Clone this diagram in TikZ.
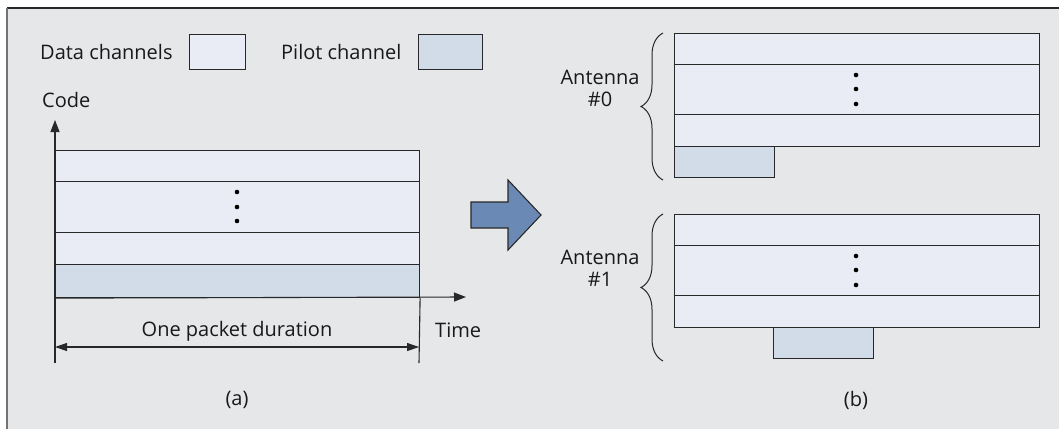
\documentclass[tikz,border=0pt]{standalone}
\usepackage{fontspec}
\setmainfont{Open Sans}
\usetikzlibrary{arrows.meta,decorations.pathreplacing}

\definecolor{panelgray}{RGB}{230,231,232}
\definecolor{datafill}{RGB}{233,236,244}
\definecolor{pilotfill}{RGB}{210,219,232}
\definecolor{bigarrow}{RGB}{106,138,181}
\definecolor{edge}{RGB}{40,40,40}

\begin{document}
\begin{tikzpicture}[x=1pt,y=-1pt,
        font=\fontsize{20}{22}\selectfont,
        datarow/.style={draw=edge, fill=datafill, line width=1.1pt, anchor=north west, minimum width=364pt, inner sep=0pt},
        pilotrow/.style={draw=edge, fill=pilotfill, line width=1.1pt, anchor=north west, inner sep=0pt},
        legendbox/.style={draw=edge, line width=1.1pt, anchor=north west, minimum width=56pt, minimum height=35pt, inner sep=0pt},
        txt/.style={inner sep=0pt, text=black!90},
        axis/.style={draw=edge, line width=1.1pt, -{Triangle[length=12pt,width=9pt]}},
        dimline/.style={draw=edge, line width=1.1pt, {Triangle[length=12pt,width=8pt]}-{Triangle[length=12pt,width=8pt]}},
        bracket/.style={draw=edge, line width=1pt, decorate, decoration={brace, amplitude=22pt}},
        ]
        \useasboundingbox (0,0) rectangle (1059,429);

        % Panel
        \fill[panelgray] (7,8) rectangle (1059,429);
        \draw[edge, line width=2pt] (7,8) -- (1059,8);
        \draw[black!55, line width=2.4pt] (7,8) -- (7,429);

        % Legend
        \node[txt, anchor=west] (datalabel) at (40,52) {Data channels};
        \node[legendbox, fill=datafill] (databox) at (189,34) {};
        \node[txt, anchor=west] (pilotlabel) at (281,52) {Pilot channel};
        \node[legendbox, fill=pilotfill, minimum width=64pt] (pilotbox) at (418,34) {};

        % (a) one packet
        \node[datarow, minimum height=31pt] (a1) at (55,150) {};
        \node[datarow, minimum height=51pt] (a2) at (55,181) {};
        \node[datarow, minimum height=32pt] (a3) at (55,232) {};
        \node[pilotrow, minimum width=364pt, minimum height=33pt] (ap) at (55,264) {};
        \foreach \y in {192,207,221}
            \fill[black] (237,\y) circle (2.3pt);

        % Axes
        \node[txt, anchor=west] (code) at (42,100) {Code};
        \node[txt, anchor=west] (time) at (435,330) {Time};
        \coordinate (codetip) at (55,120);
        \coordinate (timetip) at (466,297);
        \draw[axis] (ap.south west) -- (codetip);
        \draw[axis] (ap.south west) -- (timetip);

        % Packet duration
        \coordinate (dl) at (55,363);
        \coordinate (dr) at (419,363);
        \coordinate (al) at (55,347);
        \coordinate (ar) at (419,347);
        \draw[edge, line width=1.1pt] (ap.south west) -- (dl);
        \draw[edge, line width=1.1pt] (ap.south east) -- (dr);
        \draw[dimline] (al) -- (ar);
        \node[txt] (duration) at (237,331) {One packet duration};
        \node[txt] (capa) at (237,400) {(a)};

        % Arrow
        \draw[fill=bigarrow, draw=edge, line width=1.1pt]
            (471,202) -- (508,202) -- (508,180) -- (541,215) -- (508,250) -- (508,228) -- (471,228) -- cycle;

        % Antenna #0
        \node[datarow, minimum width=365pt, minimum height=31pt] (b1) at (674,33) {};
        \node[datarow, minimum width=365pt, minimum height=50pt] (b2) at (674,64) {};
        \node[datarow, minimum width=365pt, minimum height=32pt] (b3) at (674,114) {};
        \node[pilotrow, minimum width=100pt, minimum height=31pt] (bp) at (674,146) {};
        \foreach \y in {75,89,104}
            \fill[black] (856,\y) circle (2.3pt);
        \draw[bracket] (663,180) -- (663,33);
        \node[txt, align=center] (ant0) at (600,88) {Antenna\\\#0};

        % Antenna #1
        \node[datarow, minimum width=365pt, minimum height=31pt] (c1) at (674,214) {};
        \node[datarow, minimum width=365pt, minimum height=50pt] (c2) at (674,245) {};
        \node[datarow, minimum width=365pt, minimum height=32pt] (c3) at (674,295) {};
        \node[pilotrow, minimum width=100pt, minimum height=31pt] (cp) at (773,327) {};
        \foreach \y in {256,270,285}
            \fill[black] (856,\y) circle (2.3pt);
        \draw[bracket] (663,361) -- (663,214);
        \node[txt, align=center] (ant1) at (600,268) {Antenna\\\#1};

        \node[txt] (capb) at (856,400) {(b)};

    \end{tikzpicture}
\end{document}
